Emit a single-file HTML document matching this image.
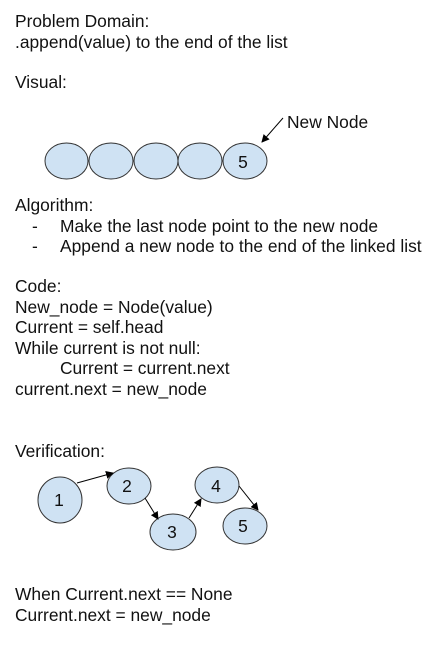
<!DOCTYPE html>
<html><head><style>
body{margin:0;background:#fff;width:446px;height:645px;overflow:hidden;position:relative;font-family:"Liberation Sans",sans-serif;font-size:17.4px;color:#111}
.t{position:absolute;left:15px;white-space:pre;line-height:20.5px}
svg{position:absolute;left:0;top:0}
</style></head><body>
<div class="t" style="top:11px">Problem Domain:
.append(value) to the end of the list</div>
<div class="t" style="top:72px">Visual:</div>
<div class="t" style="top:195px">Algorithm:</div>
<div class="t" style="top:216px;left:32px">-</div>
<div class="t" style="top:236px;left:32px">-</div>
<div class="t" style="top:216px;left:60px">Make the last node point to the new node</div>
<div class="t" style="top:236px;left:60px">Append a new node to the end of the linked list</div>
<div class="t" style="top:276px">Code:
New_node = Node(value)
Current = self.head
While current is not null:</div>
<div class="t" style="top:358px;left:60px">Current = current.next</div>
<div class="t" style="top:378.5px">current.next = new_node</div>
<div class="t" style="top:441px">Verification:</div>
<div class="t" style="top:584px">When Current.next == None
Current.next = new_node</div>
<svg width="446" height="645" font-family="Liberation Sans, sans-serif" font-size="17.4">
<defs><marker id="a" markerWidth="8" markerHeight="8" refX="7" refY="4" orient="auto" markerUnits="userSpaceOnUse"><path d="M0,0L8,4L0,8z" fill="#000"/></marker></defs>
<g fill="#cfe2f3" stroke="#333" stroke-width="1">
<ellipse cx="66.5" cy="161" rx="21.5" ry="18"/>
<ellipse cx="111" cy="161" rx="22" ry="18"/>
<ellipse cx="156" cy="161" rx="22" ry="18"/>
<ellipse cx="200" cy="161" rx="22" ry="18"/>
<ellipse cx="245" cy="161" rx="22" ry="18"/>
<ellipse cx="60" cy="500" rx="22" ry="23"/>
<ellipse cx="129" cy="486" rx="22" ry="18"/>
<ellipse cx="173" cy="532" rx="23" ry="18"/>
<ellipse cx="217" cy="485" rx="22" ry="18"/>
<ellipse cx="245" cy="526" rx="22" ry="18"/>
</g>
<g stroke="#000" stroke-width="1" marker-end="url(#a)">
<line x1="283" y1="118" x2="262" y2="142"/>
<line x1="77" y1="483" x2="113" y2="473"/>
<line x1="145" y1="498" x2="158" y2="519"/>
<line x1="189" y1="518" x2="201" y2="499"/>
<line x1="239" y1="486" x2="258" y2="510"/>
</g>
<text x="287" y="128" fill="#111">New Node</text>
<g fill="#111" text-anchor="middle">
<text x="243" y="168">5</text>
<text x="59" y="506">1</text>
<text x="127" y="492">2</text>
<text x="172" y="538">3</text>
<text x="216" y="492">4</text>
<text x="243" y="532">5</text>
</g>
</svg>
</body></html>
